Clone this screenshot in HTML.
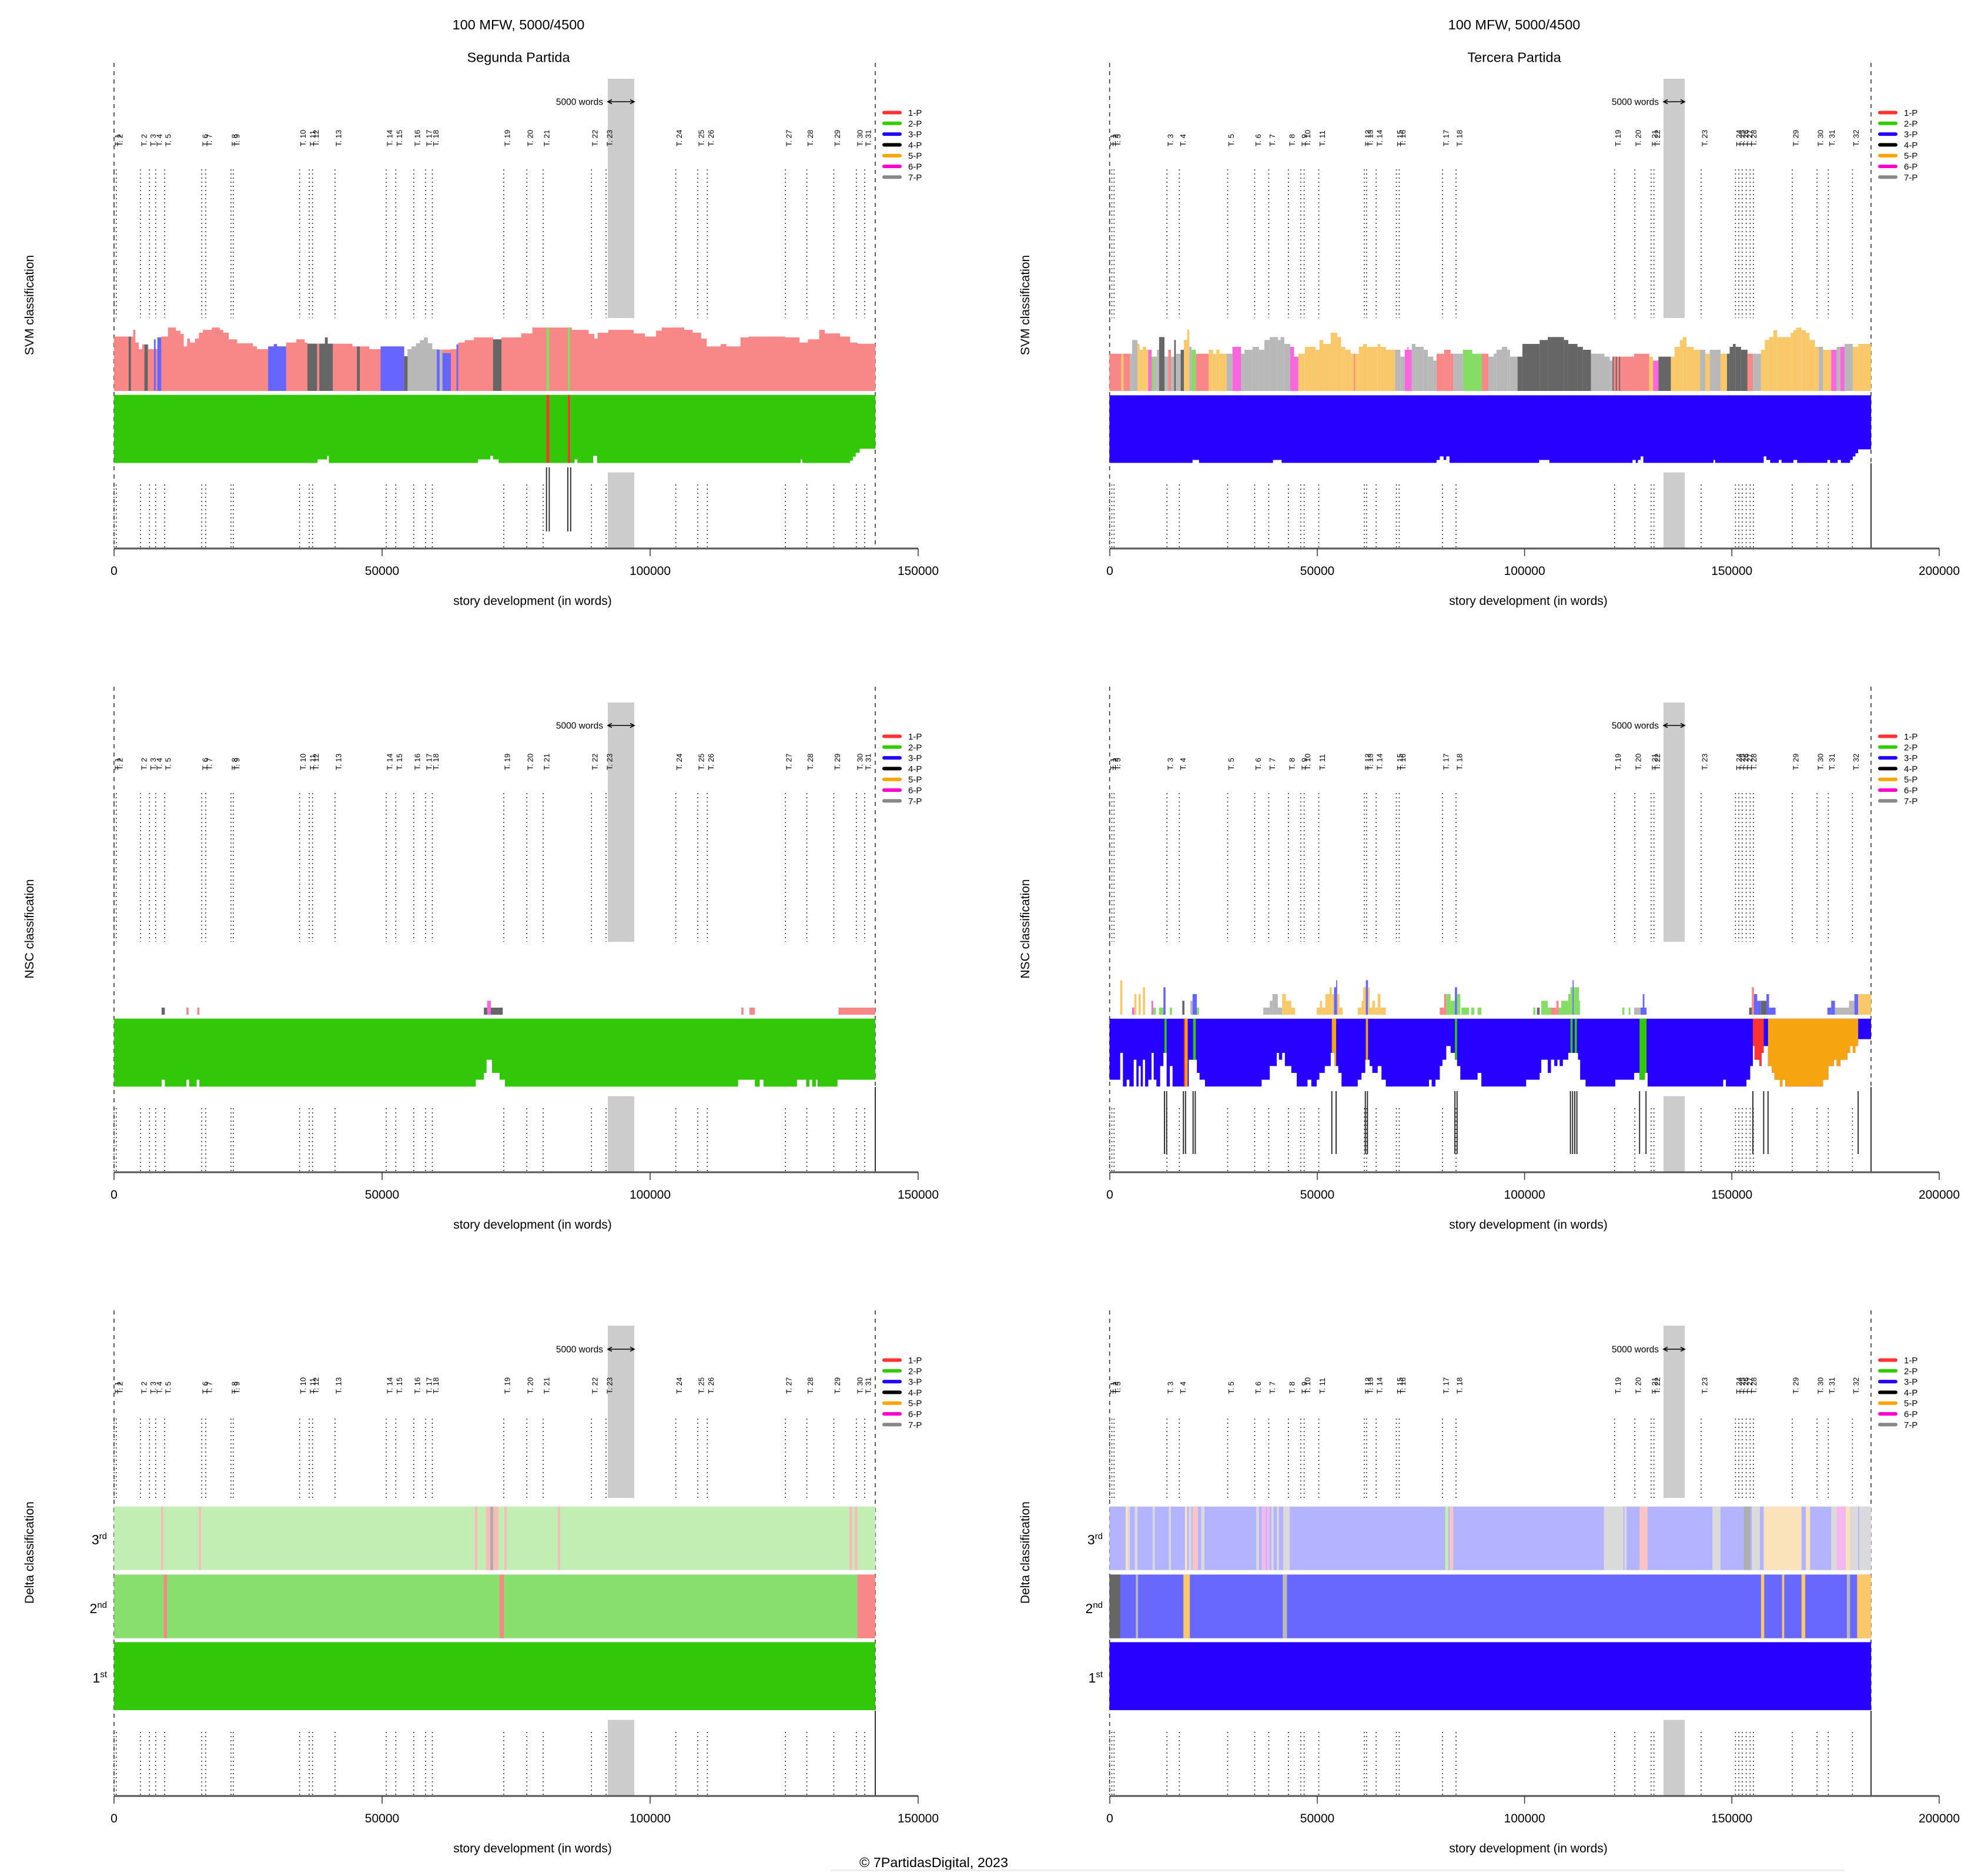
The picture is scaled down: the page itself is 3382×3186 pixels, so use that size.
<!DOCTYPE html>
<html><head><meta charset="utf-8"><title>100 MFW, 5000/4500</title>
<style>
html,body{margin:0;padding:0;background:#fff}
svg{display:block}
text{font-family:"Liberation Sans",Arial,sans-serif;fill:#000}
.ttl{font-size:23.5px;text-anchor:middle}
.yt{font-size:21px;text-anchor:middle}
.tk{font-size:21px;text-anchor:middle}
.ch text{font-size:13px}
.lgt text{font-size:15px}
.wd{font-size:15.5px;text-anchor:end}
.bl{font-size:23px;text-anchor:end}
.dot{fill:none;stroke:#333;stroke-width:1.6;stroke-dasharray:2 5}
.dash{fill:none;stroke:#333;stroke-width:1.6;stroke-dasharray:7 7}
.blk{fill:none;stroke:#333;stroke-width:2}
.ax{fill:none;stroke:#555;stroke-width:3}
.tick{fill:none;stroke:#333;stroke-width:1.5}
.arr{fill:none;stroke:#000;stroke-width:1.6}
.lgl line{stroke-width:6;stroke-linecap:round}
.r{fill:#F88787}.o{fill:#F8C86B}.g{fill:#B8B8B8}.d{fill:#666}.p{fill:#FA66DD}.l{fill:#85DD66}.b{fill:#6666FF}
.G{fill:#33C70A}.B{fill:#2800FF}.R{fill:#F33}.O{fill:#F6A410}
</style></head><body>
<svg xmlns="http://www.w3.org/2000/svg" width="3382" height="3186" viewBox="0 0 3382 3186">
<rect width="3382" height="3186" fill="#fff"/>
<defs>
<path id="dLu" d="M194 288v253M197.8 288v253M239 288v253M254.3 288v253M264.8 288v253M280.1 288v253M343.2 288v253M349.9 288v253M393 288v253M396.8 288v253M509.7 288v253M526 288v253M531.7 288v253M570 288v253M657 288v253M673.3 288v253M703.9 288v253M724 288v253M735.5 288v253M857 288v253M896.2 288v253M924 288v253M1006.2 288v253M1031 288v253M1149.7 288v253M1187 288v253M1203.3 288v253M1336.2 288v253M1372.6 288v253M1418.5 288v253M1456.8 288v253M1471.1 288v253"/>
<path id="dL3" d="M194 291v135M197.8 291v135M239 291v135M254.3 291v135M264.8 291v135M280.1 291v135M343.2 291v135M349.9 291v135M393 291v135M396.8 291v135M509.7 291v135M526 291v135M531.7 291v135M570 291v135M657 291v135M673.3 291v135M703.9 291v135M724 291v135M735.5 291v135M857 291v135M896.2 291v135M924 291v135M1006.2 291v135M1031 291v135M1149.7 291v135M1187 291v135M1203.3 291v135M1336.2 291v135M1372.6 291v135M1418.5 291v135M1456.8 291v135M1471.1 291v135"/>
<path id="dLl" d="M194 824v109M197.8 824v109M239 824v109M254.3 824v109M264.8 824v109M280.1 824v109M343.2 824v109M349.9 824v109M393 824v109M396.8 824v109M509.7 824v109M526 824v109M531.7 824v109M570 824v109M657 824v109M673.3 824v109M703.9 824v109M724 824v109M735.5 824v109M857 824v109M896.2 824v109M924 824v109M1006.2 824v109M1031 824v109M1149.7 824v109M1187 824v109M1203.3 824v109M1336.2 824v109M1372.6 824v109M1418.5 824v109M1456.8 824v109M1471.1 824v109"/>
<path id="dRu" d="M196.7 288v253M200.5 288v253M204.3 288v253M294.2 288v253M315.3 288v253M397.5 288v253M443.5 288v253M467.4 288v253M500.9 288v253M521.9 288v253M527.6 288v253M552.5 288v253M630 288v253M633.8 288v253M650.1 288v253M684.5 288v253M689.3 288v253M763 288v253M786 288v253M1055.7 288v253M1090.2 288v253M1117.9 288v253M1122.7 288v253M1203 288v253M1261.4 288v253M1267.1 288v253M1272.9 288v253M1279.6 288v253M1286.3 288v253M1292 288v253M1358 288v253M1400.1 288v253M1419.3 288v253M1460.4 288v253"/>
<path id="dR3" d="M196.7 291v135M200.5 291v135M204.3 291v135M294.2 291v135M315.3 291v135M397.5 291v135M443.5 291v135M467.4 291v135M500.9 291v135M521.9 291v135M527.6 291v135M552.5 291v135M630 291v135M633.8 291v135M650.1 291v135M684.5 291v135M689.3 291v135M763 291v135M786 291v135M1055.7 291v135M1090.2 291v135M1117.9 291v135M1122.7 291v135M1203 291v135M1261.4 291v135M1267.1 291v135M1272.9 291v135M1279.6 291v135M1286.3 291v135M1292 291v135M1358 291v135M1400.1 291v135M1419.3 291v135M1460.4 291v135"/>
<path id="dRl" d="M196.7 824v109M200.5 824v109M204.3 824v109M294.2 824v109M315.3 824v109M397.5 824v109M443.5 824v109M467.4 824v109M500.9 824v109M521.9 824v109M527.6 824v109M552.5 824v109M630 824v109M633.8 824v109M650.1 824v109M684.5 824v109M689.3 824v109M763 824v109M786 824v109M1055.7 824v109M1090.2 824v109M1117.9 824v109M1122.7 824v109M1203 824v109M1261.4 824v109M1267.1 824v109M1272.9 824v109M1279.6 824v109M1286.3 824v109M1292 824v109M1358 824v109M1400.1 824v109M1419.3 824v109M1460.4 824v109"/>
<clipPath id="c5"><path d="M8,278 H1419 V383 H1395 V418 H1390 V453 H1385 V418 H1380 V453 H1375 V488 H1362 V520 H1355 V488 H1350 V520 H1340 V590 H1330 V625 H1260 V590 H1255 V625 H1250 V590 H1240 V555 H1235 V520 H1228 V418 H1220 V453 H1216 V520 H1212 V488 H1203 V418 H1200 V520 H1195 V590 H1188 V625 H1150 V590 H1145 V625 H1005 V555 H1000 V590 H990 V555 H980 V590 H945 V625 H890 V590 H880 V488 H876 V453 H858 V488 H848 V520 H842 V488 H838 V520 H832 V488 H826 V555 H820 V488 H808 V555 H805 V590 H780 V625 H697 V555 H690 V590 H658 V520 H652 V488 H648 V453 H640 V418 H632 V488 H625 V520 H620 V590 H612 V625 H605 V590 H600 V625 H520 V590 H512 V520 H505 V555 H495 V520 H490 V488 H482 V555 H475 V590 H468 V625 H438 V555 H432 V520 H425 V453 H418 V520 H407 V555 H397 V590 H392 V625 H382 V590 H375 V625 H355 V555 H345 V520 H333 V453 H328 V488 H322 V453 H318 V520 H305 V590 H290 V625 H185 V590 H175 V555 H170 V488 H155 V625 H125 V520 H120 V625 H114 V453 H108 V520 H102 V625 H95 V590 H90 V453 H86 V590 H80 V625 H74 V488 H70 V625 H66 V520 H62 V625 H58 V488 H53 V625 H45 V590 H40 V625 H33 V453 H28 V590 H8 Z"/></clipPath>
</defs>

<!-- ================= ROW 1 LEFT ================= -->
<g transform="translate(0,0)">
<text x="882" y="50" class="ttl">100 MFW, 5000/4500</text>
<text x="882" y="105.5" class="ttl">Segunda Partida</text>
<text transform="translate(57 519)rotate(-90)" class="yt">SVM classification</text>
<path class="dash" d="M194 107V933M1489 107V933"/>
<rect x="1034" y="134" width="45" height="407" fill="#CCC"/>
<rect x="1034" y="803.6" width="45" height="129.4" fill="#CCC"/>
<use href="#dLu" class="dot"/><use href="#dLl" class="dot"/>
<g class="ch">
<text transform="translate(204.5 249)rotate(-90)">T. 1</text><text transform="translate(208.3 249)rotate(-90)">T. 2</text><text transform="translate(249.5 249)rotate(-90)">T. 2</text><text transform="translate(264.8 249)rotate(-90)">T. 3</text><text transform="translate(275.3 249)rotate(-90)">T. 4</text><text transform="translate(290.6 249)rotate(-90)">T. 5</text><text transform="translate(353.7 249)rotate(-90)">T. 6</text><text transform="translate(360.4 249)rotate(-90)">T. 7</text><text transform="translate(403.5 249)rotate(-90)">T. 8</text><text transform="translate(407.3 249)rotate(-90)">T. 9</text><text transform="translate(520.2 249)rotate(-90)">T. 10</text><text transform="translate(536.5 249)rotate(-90)">T. 11</text><text transform="translate(542.2 249)rotate(-90)">T. 12</text><text transform="translate(580.5 249)rotate(-90)">T. 13</text><text transform="translate(667.5 249)rotate(-90)">T. 14</text><text transform="translate(683.8 249)rotate(-90)">T. 15</text><text transform="translate(714.4 249)rotate(-90)">T. 16</text><text transform="translate(734.5 249)rotate(-90)">T. 17</text><text transform="translate(746 249)rotate(-90)">T. 18</text><text transform="translate(867.5 249)rotate(-90)">T. 19</text><text transform="translate(906.7 249)rotate(-90)">T. 20</text><text transform="translate(934.5 249)rotate(-90)">T. 21</text><text transform="translate(1016.7 249)rotate(-90)">T. 22</text><text transform="translate(1041.5 249)rotate(-90)">T. 23</text><text transform="translate(1160.2 249)rotate(-90)">T. 24</text><text transform="translate(1197.5 249)rotate(-90)">T. 25</text><text transform="translate(1213.8 249)rotate(-90)">T. 26</text><text transform="translate(1346.7 249)rotate(-90)">T. 27</text><text transform="translate(1383.1 249)rotate(-90)">T. 28</text><text transform="translate(1429 249)rotate(-90)">T. 29</text><text transform="translate(1467.3 249)rotate(-90)">T. 30</text><text transform="translate(1481.6 249)rotate(-90)">T. 31</text>
</g>
<path class="arr" d="M1034 173H1079M1041 169.5L1034 173L1041 176.5M1072 169.5L1079 173L1072 176.5"/>
<text x="1026" y="178.5" class="wd">5000 words</text>
<g class="lgl"><line x1="1504" x2="1531" y1="191.5" y2="191.5" stroke="#FF3333"/><line x1="1504" x2="1531" y1="209.8" y2="209.8" stroke="#33CC00"/><line x1="1504" x2="1531" y1="228.1" y2="228.1" stroke="#2200FF"/><line x1="1504" x2="1531" y1="246.4" y2="246.4" stroke="#000"/><line x1="1504" x2="1531" y1="264.7" y2="264.7" stroke="#F8A500"/><line x1="1504" x2="1531" y1="283" y2="283" stroke="#FF00CC"/><line x1="1504" x2="1531" y1="301.3" y2="301.3" stroke="#888"/></g>
<g class="lgt"><text x="1545" y="197">1-P</text><text x="1545" y="215.3">2-P</text><text x="1545" y="233.6">3-P</text><text x="1545" y="251.9">4-P</text><text x="1545" y="270.2">5-P</text><text x="1545" y="288.5">6-P</text><text x="1545" y="306.8">7-P</text></g>
<g transform="translate(150,0) scale(0.95663,0.66964)">
<path class="r" d="M46,993 V855 H80 V838 H84 V870 H90 V887 H96 V875 H107 V887 H130 V855 H142 V832 H156 V840 H164 V848 H170 V880 H176 V860 H181 V870 H190 V860 H197 V845 H204 V838 H220 V832 H234 V838 H240 V845 H250 V862 H265 V872 H293 V880 H300 V887 H320 V880 H352 V870 H370 V862 H385 V870 H390 V873 H470 V880 H500 V887 H520 V880 H562 V905 H568 V887 H620 V888 H645 V887 H655 V875 H658 V870 H670 V864 H686 V857 H720 V862 H735 V857 H770 V847 H790 V832 H860 V838 H890 V848 H900 V860 H906 V845 H925 V838 H970 V847 H990 V855 H1010 V840 H1020 V832 H1060 V838 H1075 V845 H1090 V860 H1100 V880 H1125 V874 H1135 V880 H1160 V857 H1175 V855 H1240 V857 H1265 V870 H1280 V862 H1300 V838 H1310 V847 H1337 V855 H1355 V870 H1368 V873 H1400 V993 Z"/>
<rect class="d" x="72" y="855" width="4" height="138"/><rect class="d" x="100" y="875" width="6" height="118"/><rect class="d" x="390" y="873" width="17" height="120"/><rect class="d" x="411" y="873" width="24" height="120"/><rect class="d" x="421" y="857" width="5" height="16"/><rect class="d" x="478" y="880" width="5" height="113"/><rect class="d" x="562" y="905" width="6" height="88"/><rect class="d" x="720" y="862" width="15" height="131"/>
<rect class="b" x="117" y="862" width="3" height="131"/><rect class="b" x="123" y="857" width="7" height="136"/><rect class="b" x="320" y="880" width="32" height="113"/><rect class="b" x="330" y="874" width="6" height="6"/><rect class="b" x="520" y="880" width="42" height="113"/><rect class="b" x="620" y="888" width="5" height="105"/><rect class="b" x="630" y="897" width="15" height="96"/><rect class="b" x="655" y="875" width="3" height="118"/>
<path class="g" d="M568,993 V887 H575 V880 H583 V872 H590 V864 H597 V857 H604 V872 H612 V887 H620 V993 Z"/><rect class="g" x="625" y="888" width="5" height="105"/>
<rect class="l" x="815" y="832" width="5" height="161"/><rect class="l" x="853" y="832" width="4" height="161"/>
<path class="G" d="M46,1003 H1400 V1140 H1372 V1150 H1365 V1160 H1360 V1170 H1355 V1176 H1270 V1167 H1267 V1176 H905 V1158 H898 V1176 H870 V1167 H865 V1176 H730 V1167 H720 V1158 H715 V1167 H693 V1176 H428 V1158 H425 V1167 H408 V1176 H46 Z"/>
<rect class="R" x="815" y="1003" width="5" height="173"/><rect class="R" x="853" y="1003" width="4" height="173"/>
</g>
<path class="blk" d="M929.7 795V904M934.4 795V904M966 795V904M970.8 795V904"/>
<path class="ax" d="M194 933H1562"/>
<path class="tick" d="M194 933v13M650 933v13M1106 933v13M1562 933v13"/>
<text x="194" y="978" class="tk">0</text><text x="650" y="978" class="tk">50000</text><text x="1106" y="978" class="tk">100000</text><text x="1562" y="978" class="tk">150000</text>
<text x="906" y="1029" class="tk">story development (in words)</text>
</g>

<!-- ================= ROW 1 RIGHT ================= -->
<g transform="translate(1691,0)">
<text x="885" y="50" class="ttl">100 MFW, 5000/4500</text>
<text x="885" y="105.5" class="ttl">Tercera Partida</text>
<text transform="translate(60 519)rotate(-90)" class="yt">SVM classification</text>
<path class="dash" d="M196.7 107V933M1492 107V788"/>
<path class="blk" d="M1492 788V933"/>
<rect x="1139" y="134" width="36" height="407" fill="#CCC"/>
<rect x="1139" y="803.6" width="36" height="129.4" fill="#CCC"/>
<use href="#dRu" class="dot"/><use href="#dRl" class="dot"/>
<g class="ch">
<text transform="translate(207.2 249)rotate(-90)">T. 1</text><text transform="translate(211 249)rotate(-90)">T. 2</text><text transform="translate(214.8 249)rotate(-90)">T. 3</text><text transform="translate(304.7 249)rotate(-90)">T. 3</text><text transform="translate(325.8 249)rotate(-90)">T. 4</text><text transform="translate(408 249)rotate(-90)">T. 5</text><text transform="translate(454 249)rotate(-90)">T. 6</text><text transform="translate(477.9 249)rotate(-90)">T. 7</text><text transform="translate(511.4 249)rotate(-90)">T. 8</text><text transform="translate(532.4 249)rotate(-90)">T. 9</text><text transform="translate(538.1 249)rotate(-90)">T. 10</text><text transform="translate(563 249)rotate(-90)">T. 11</text><text transform="translate(640.5 249)rotate(-90)">T. 12</text><text transform="translate(644.3 249)rotate(-90)">T. 13</text><text transform="translate(660.6 249)rotate(-90)">T. 14</text><text transform="translate(695 249)rotate(-90)">T. 15</text><text transform="translate(699.8 249)rotate(-90)">T. 16</text><text transform="translate(773.5 249)rotate(-90)">T. 17</text><text transform="translate(796.5 249)rotate(-90)">T. 18</text><text transform="translate(1066.2 249)rotate(-90)">T. 19</text><text transform="translate(1100.7 249)rotate(-90)">T. 20</text><text transform="translate(1128.4 249)rotate(-90)">T. 21</text><text transform="translate(1133.2 249)rotate(-90)">T. 22</text><text transform="translate(1213.5 249)rotate(-90)">T. 23</text><text transform="translate(1271.9 249)rotate(-90)">T. 24</text><text transform="translate(1277.6 249)rotate(-90)">T. 25</text><text transform="translate(1283.4 249)rotate(-90)">T. 26</text><text transform="translate(1290.1 249)rotate(-90)">T. 27</text><text transform="translate(1296.8 249)rotate(-90)">T. 28</text><text transform="translate(1368.5 249)rotate(-90)">T. 29</text><text transform="translate(1410.6 249)rotate(-90)">T. 30</text><text transform="translate(1429.8 249)rotate(-90)">T. 31</text><text transform="translate(1470.9 249)rotate(-90)">T. 32</text>
</g>
<path class="arr" d="M1139 173H1175M1146 169.5L1139 173L1146 176.5M1168 169.5L1175 173L1168 176.5"/>
<text x="1131" y="178.5" class="wd">5000 words</text>
<g class="lgl"><line x1="1507" x2="1534" y1="191.5" y2="191.5" stroke="#FF3333"/><line x1="1507" x2="1534" y1="209.8" y2="209.8" stroke="#33CC00"/><line x1="1507" x2="1534" y1="228.1" y2="228.1" stroke="#2200FF"/><line x1="1507" x2="1534" y1="246.4" y2="246.4" stroke="#000"/><line x1="1507" x2="1534" y1="264.7" y2="264.7" stroke="#F8A500"/><line x1="1507" x2="1534" y1="283" y2="283" stroke="#FF00CC"/><line x1="1507" x2="1534" y1="301.3" y2="301.3" stroke="#888"/></g>
<g class="lgt"><text x="1548" y="197">1-P</text><text x="1548" y="215.3">2-P</text><text x="1548" y="233.6">3-P</text><text x="1548" y="251.9">4-P</text><text x="1548" y="270.2">5-P</text><text x="1548" y="288.5">6-P</text><text x="1548" y="306.8">7-P</text></g>
<g transform="translate(189,540) scale(0.91837,0.33333)">
<rect class="r" x="8" y="185" width="22" height="190"/><rect class="o" x="30" y="185" width="4" height="190"/><rect class="r" x="34" y="185" width="12" height="190"/><rect class="g" x="46" y="185" width="4" height="190"/><rect class="g" x="50" y="115" width="10" height="260"/><rect class="o" x="60" y="135" width="4" height="240"/><rect class="o" x="64" y="165" width="6" height="210"/><rect class="o" x="70" y="150" width="6" height="225"/><rect class="o" x="76" y="165" width="4" height="210"/><rect class="p" x="80" y="165" width="6" height="210"/><rect class="l" x="86" y="200" width="4" height="175"/><rect class="g" x="90" y="200" width="6" height="175"/><rect class="g" x="96" y="165" width="4" height="210"/><rect class="d" x="100" y="100" width="10" height="275"/><rect class="g" x="110" y="200" width="7" height="175"/><rect class="r" x="117" y="165" width="5" height="210"/><rect class="g" x="122" y="200" width="6" height="175"/><rect class="d" x="128" y="115" width="3" height="260"/><rect class="g" x="131" y="185" width="9" height="190"/><rect class="d" x="140" y="165" width="6" height="210"/><rect class="o" x="146" y="115" width="6" height="260"/><rect class="o" x="152" y="63" width="4" height="312"/><rect class="g" x="156" y="150" width="4" height="225"/><rect class="l" x="160" y="165" width="8" height="210"/><rect class="r" x="168" y="185" width="24" height="190"/><rect class="o" x="192" y="165" width="8" height="210"/><rect class="o" x="200" y="185" width="6" height="190"/><rect class="o" x="206" y="165" width="6" height="210"/><rect class="o" x="212" y="185" width="13" height="190"/><rect class="g" x="225" y="185" width="11" height="190"/><rect class="p" x="236" y="150" width="16" height="225"/><rect class="g" x="252" y="185" width="6" height="190"/><rect class="g" x="258" y="165" width="15" height="210"/><rect class="g" x="273" y="150" width="12" height="225"/><rect class="g" x="285" y="165" width="10" height="210"/><rect class="g" x="295" y="115" width="10" height="260"/><rect class="g" x="305" y="100" width="15" height="275"/><rect class="g" x="320" y="115" width="5" height="260"/><rect class="g" x="325" y="100" width="7" height="275"/><rect class="g" x="332" y="135" width="11" height="240"/><rect class="p" x="343" y="150" width="7" height="225"/><rect class="p" x="350" y="200" width="8" height="175"/><rect class="o" x="358" y="185" width="12" height="190"/><rect class="o" x="370" y="150" width="20" height="225"/><rect class="o" x="390" y="165" width="7" height="210"/><rect class="o" x="397" y="115" width="7" height="260"/><rect class="o" x="404" y="135" width="14" height="240"/><rect class="o" x="418" y="78" width="12" height="297"/><rect class="o" x="430" y="100" width="7" height="275"/><rect class="o" x="437" y="150" width="8" height="225"/><rect class="o" x="445" y="165" width="10" height="210"/><rect class="o" x="455" y="185" width="15" height="190"/><rect class="r" x="461" y="185" width="2" height="190"/><rect class="o" x="470" y="150" width="8" height="225"/><rect class="o" x="478" y="135" width="7" height="240"/><rect class="o" x="485" y="150" width="20" height="225"/><rect class="o" x="505" y="135" width="5" height="240"/><rect class="o" x="510" y="150" width="10" height="225"/><rect class="o" x="520" y="165" width="17" height="210"/><rect class="g" x="537" y="165" width="10" height="210"/><rect class="g" x="547" y="200" width="8" height="175"/><rect class="p" x="555" y="165" width="13" height="210"/><rect class="p" x="560" y="150" width="2" height="225"/><rect class="g" x="568" y="135" width="7" height="240"/><rect class="g" x="575" y="150" width="15" height="225"/><rect class="g" x="590" y="165" width="8" height="210"/><rect class="g" x="598" y="200" width="10" height="175"/><rect class="g" x="608" y="220" width="6" height="155"/><rect class="r" x="614" y="185" width="14" height="190"/><rect class="r" x="628" y="165" width="12" height="210"/><rect class="r" x="640" y="185" width="5" height="190"/><rect class="g" x="645" y="185" width="18" height="190"/><rect class="l" x="663" y="165" width="17" height="210"/><rect class="l" x="680" y="185" width="18" height="190"/><rect class="r" x="698" y="185" width="12" height="190"/><rect class="g" x="710" y="200" width="10" height="175"/><rect class="g" x="720" y="185" width="5" height="190"/><rect class="g" x="725" y="165" width="10" height="210"/><rect class="g" x="735" y="150" width="10" height="225"/><rect class="g" x="745" y="165" width="5" height="210"/><rect class="g" x="750" y="200" width="14" height="175"/><rect class="d" x="764" y="200" width="9" height="175"/><rect class="d" x="773" y="135" width="32" height="240"/><rect class="d" x="805" y="115" width="15" height="260"/><rect class="d" x="820" y="100" width="30" height="275"/><rect class="d" x="850" y="115" width="8" height="260"/><rect class="d" x="858" y="135" width="17" height="240"/><rect class="d" x="875" y="150" width="10" height="225"/><rect class="d" x="885" y="165" width="15" height="210"/><rect class="g" x="900" y="185" width="25" height="190"/><rect class="g" x="925" y="200" width="10" height="175"/><rect class="g" x="935" y="220" width="5" height="155"/><rect class="r" x="940" y="200" width="40" height="175"/><rect class="d" x="940" y="200" width="2" height="175"/><rect class="d" x="946" y="200" width="2" height="175"/><rect class="d" x="952" y="200" width="2" height="175"/><rect class="r" x="980" y="185" width="28" height="190"/><rect class="o" x="1008" y="200" width="7" height="175"/><rect class="p" x="1015" y="220" width="10" height="155"/><rect class="d" x="1025" y="200" width="23" height="175"/><rect class="o" x="1048" y="200" width="7" height="175"/><rect class="o" x="1055" y="150" width="10" height="225"/><rect class="o" x="1065" y="115" width="5" height="260"/><rect class="o" x="1070" y="100" width="7" height="275"/><rect class="o" x="1077" y="150" width="13" height="225"/><rect class="o" x="1090" y="165" width="12" height="210"/><rect class="g" x="1102" y="165" width="10" height="210"/><rect class="o" x="1112" y="185" width="8" height="190"/><rect class="g" x="1120" y="165" width="20" height="210"/><rect class="o" x="1140" y="185" width="12" height="190"/><rect class="d" x="1152" y="185" width="5" height="190"/><rect class="d" x="1157" y="150" width="6" height="225"/><rect class="d" x="1163" y="135" width="5" height="240"/><rect class="d" x="1168" y="150" width="10" height="225"/><rect class="d" x="1178" y="165" width="12" height="210"/><rect class="r" x="1190" y="185" width="10" height="190"/><rect class="g" x="1200" y="185" width="15" height="190"/><rect class="o" x="1215" y="165" width="7" height="210"/><rect class="o" x="1222" y="115" width="8" height="260"/><rect class="o" x="1230" y="100" width="8" height="275"/><rect class="o" x="1238" y="65" width="7" height="310"/><rect class="o" x="1245" y="100" width="25" height="275"/><rect class="o" x="1270" y="78" width="5" height="297"/><rect class="o" x="1275" y="65" width="5" height="310"/><rect class="o" x="1280" y="52" width="10" height="323"/><rect class="o" x="1290" y="65" width="8" height="310"/><rect class="o" x="1298" y="78" width="7" height="297"/><rect class="o" x="1305" y="115" width="10" height="260"/><rect class="o" x="1315" y="150" width="7" height="225"/><rect class="g" x="1322" y="150" width="8" height="225"/><rect class="o" x="1330" y="165" width="15" height="210"/><rect class="p" x="1345" y="165" width="10" height="210"/><rect class="g" x="1355" y="150" width="7" height="225"/><rect class="p" x="1362" y="150" width="8" height="225"/><rect class="g" x="1370" y="135" width="15" height="240"/><rect class="o" x="1385" y="150" width="10" height="225"/><rect class="o" x="1395" y="135" width="24" height="240"/>
<path class="B" d="M8,397 H1419 V673 H1395 V693 H1390 V709 H1385 V727 H1380 V742 H1363 V727 H1357 V742 H1343 V727 H1338 V742 H1282 V727 H1275 V742 H1253 V727 H1248 V742 H1232 V727 H1225 V709 H1220 V742 H1130 V727 H1127 V742 H997 V709 H992 V727 H987 V742 H983 V727 H977 V742 H823 V727 H804 V742 H638 V709 H632 V727 H627 V709 H620 V727 H614 V742 H327 V727 H311 V742 H174 V727 H162 V742 H8 Z"/>
</g>
<path class="ax" d="M197 933H1608"/>
<path class="tick" d="M197 933v13M550 933v13M902.6 933v13M1255.2 933v13M1608 933v13"/>
<text x="197" y="978" class="tk">0</text><text x="550" y="978" class="tk">50000</text><text x="902.6" y="978" class="tk">100000</text><text x="1255.2" y="978" class="tk">150000</text><text x="1608" y="978" class="tk">200000</text>
<text x="909" y="1029" class="tk">story development (in words)</text>
</g>

<!-- ================= ROW 2 LEFT ================= -->
<g transform="translate(0,1061)">
<text transform="translate(57 519)rotate(-90)" class="yt">NSC classification</text>
<path class="dash" d="M194 107V933M1489 107V788"/>
<path class="blk" d="M1489 788V933"/>
<rect x="1034" y="134" width="45" height="407" fill="#CCC"/>
<rect x="1034" y="803.6" width="45" height="129.4" fill="#CCC"/>
<use href="#dLu" class="dot"/><use href="#dLl" class="dot"/>
<g class="ch">
<text transform="translate(204.5 249)rotate(-90)">T. 1</text><text transform="translate(208.3 249)rotate(-90)">T. 2</text><text transform="translate(249.5 249)rotate(-90)">T. 2</text><text transform="translate(264.8 249)rotate(-90)">T. 3</text><text transform="translate(275.3 249)rotate(-90)">T. 4</text><text transform="translate(290.6 249)rotate(-90)">T. 5</text><text transform="translate(353.7 249)rotate(-90)">T. 6</text><text transform="translate(360.4 249)rotate(-90)">T. 7</text><text transform="translate(403.5 249)rotate(-90)">T. 8</text><text transform="translate(407.3 249)rotate(-90)">T. 9</text><text transform="translate(520.2 249)rotate(-90)">T. 10</text><text transform="translate(536.5 249)rotate(-90)">T. 11</text><text transform="translate(542.2 249)rotate(-90)">T. 12</text><text transform="translate(580.5 249)rotate(-90)">T. 13</text><text transform="translate(667.5 249)rotate(-90)">T. 14</text><text transform="translate(683.8 249)rotate(-90)">T. 15</text><text transform="translate(714.4 249)rotate(-90)">T. 16</text><text transform="translate(734.5 249)rotate(-90)">T. 17</text><text transform="translate(746 249)rotate(-90)">T. 18</text><text transform="translate(867.5 249)rotate(-90)">T. 19</text><text transform="translate(906.7 249)rotate(-90)">T. 20</text><text transform="translate(934.5 249)rotate(-90)">T. 21</text><text transform="translate(1016.7 249)rotate(-90)">T. 22</text><text transform="translate(1041.5 249)rotate(-90)">T. 23</text><text transform="translate(1160.2 249)rotate(-90)">T. 24</text><text transform="translate(1197.5 249)rotate(-90)">T. 25</text><text transform="translate(1213.8 249)rotate(-90)">T. 26</text><text transform="translate(1346.7 249)rotate(-90)">T. 27</text><text transform="translate(1383.1 249)rotate(-90)">T. 28</text><text transform="translate(1429 249)rotate(-90)">T. 29</text><text transform="translate(1467.3 249)rotate(-90)">T. 30</text><text transform="translate(1481.6 249)rotate(-90)">T. 31</text>
</g>
<path class="arr" d="M1034 173H1079M1041 169.5L1034 173L1041 176.5M1072 169.5L1079 173L1072 176.5"/>
<text x="1026" y="178.5" class="wd">5000 words</text>
<g class="lgl"><line x1="1504" x2="1531" y1="191.5" y2="191.5" stroke="#FF3333"/><line x1="1504" x2="1531" y1="209.8" y2="209.8" stroke="#33CC00"/><line x1="1504" x2="1531" y1="228.1" y2="228.1" stroke="#2200FF"/><line x1="1504" x2="1531" y1="246.4" y2="246.4" stroke="#000"/><line x1="1504" x2="1531" y1="264.7" y2="264.7" stroke="#F8A500"/><line x1="1504" x2="1531" y1="283" y2="283" stroke="#FF00CC"/><line x1="1504" x2="1531" y1="301.3" y2="301.3" stroke="#888"/></g>
<g class="lgt"><text x="1545" y="197">1-P</text><text x="1545" y="215.3">2-P</text><text x="1545" y="233.6">3-P</text><text x="1545" y="251.9">4-P</text><text x="1545" y="270.2">5-P</text><text x="1545" y="288.5">6-P</text><text x="1545" y="306.8">7-P</text></g>
<g transform="translate(150,579) scale(0.91837,0.33333)">
<rect class="d" x="136" y="222" width="6" height="36"/><rect class="r" x="182" y="222" width="4" height="36"/><rect class="r" x="202" y="222" width="4" height="36"/><rect class="d" x="733" y="222" width="35" height="36"/><rect class="p" x="739" y="187" width="7" height="71"/><rect class="r" x="1210" y="222" width="4" height="36"/><rect class="r" x="1225" y="222" width="10" height="36"/><rect class="r" x="1390" y="222" width="68" height="36"/>
<path class="G" d="M48,278 H1458 V590 H1388 V625 H1351 V590 H1348 V625 H1341 V590 H1336 V625 H1330 V590 H1313 V625 H1251 V590 H1244 V625 H1235 V590 H1204 V625 H772 V590 H762 V555 H748 V488 H738 V555 H733 V590 H718 V625 H206 V590 H201 V625 H187 V590 H182 V625 H142 V590 H136 V625 H48 Z"/>
</g>
<path class="ax" d="M194 933H1562"/>
<path class="tick" d="M194 933v13M650 933v13M1106 933v13M1562 933v13"/>
<text x="194" y="978" class="tk">0</text><text x="650" y="978" class="tk">50000</text><text x="1106" y="978" class="tk">100000</text><text x="1562" y="978" class="tk">150000</text>
<text x="906" y="1029" class="tk">story development (in words)</text>
</g>

<!-- ================= ROW 2 RIGHT ================= -->
<g transform="translate(1691,1061)">
<text transform="translate(60 519)rotate(-90)" class="yt">NSC classification</text>
<path class="dash" d="M196.7 107V933M1492 107V788"/>
<path class="blk" d="M1492 788V933"/>
<rect x="1139" y="134" width="36" height="407" fill="#CCC"/>
<rect x="1139" y="803.6" width="36" height="129.4" fill="#CCC"/>
<use href="#dRu" class="dot"/><use href="#dRl" class="dot"/>
<g class="ch">
<text transform="translate(207.2 249)rotate(-90)">T. 1</text><text transform="translate(211 249)rotate(-90)">T. 2</text><text transform="translate(214.8 249)rotate(-90)">T. 3</text><text transform="translate(304.7 249)rotate(-90)">T. 3</text><text transform="translate(325.8 249)rotate(-90)">T. 4</text><text transform="translate(408 249)rotate(-90)">T. 5</text><text transform="translate(454 249)rotate(-90)">T. 6</text><text transform="translate(477.9 249)rotate(-90)">T. 7</text><text transform="translate(511.4 249)rotate(-90)">T. 8</text><text transform="translate(532.4 249)rotate(-90)">T. 9</text><text transform="translate(538.1 249)rotate(-90)">T. 10</text><text transform="translate(563 249)rotate(-90)">T. 11</text><text transform="translate(640.5 249)rotate(-90)">T. 12</text><text transform="translate(644.3 249)rotate(-90)">T. 13</text><text transform="translate(660.6 249)rotate(-90)">T. 14</text><text transform="translate(695 249)rotate(-90)">T. 15</text><text transform="translate(699.8 249)rotate(-90)">T. 16</text><text transform="translate(773.5 249)rotate(-90)">T. 17</text><text transform="translate(796.5 249)rotate(-90)">T. 18</text><text transform="translate(1066.2 249)rotate(-90)">T. 19</text><text transform="translate(1100.7 249)rotate(-90)">T. 20</text><text transform="translate(1128.4 249)rotate(-90)">T. 21</text><text transform="translate(1133.2 249)rotate(-90)">T. 22</text><text transform="translate(1213.5 249)rotate(-90)">T. 23</text><text transform="translate(1271.9 249)rotate(-90)">T. 24</text><text transform="translate(1277.6 249)rotate(-90)">T. 25</text><text transform="translate(1283.4 249)rotate(-90)">T. 26</text><text transform="translate(1290.1 249)rotate(-90)">T. 27</text><text transform="translate(1296.8 249)rotate(-90)">T. 28</text><text transform="translate(1368.5 249)rotate(-90)">T. 29</text><text transform="translate(1410.6 249)rotate(-90)">T. 30</text><text transform="translate(1429.8 249)rotate(-90)">T. 31</text><text transform="translate(1470.9 249)rotate(-90)">T. 32</text>
</g>
<path class="arr" d="M1139 173H1175M1146 169.5L1139 173L1146 176.5M1168 169.5L1175 173L1168 176.5"/>
<text x="1131" y="178.5" class="wd">5000 words</text>
<g class="lgl"><line x1="1507" x2="1534" y1="191.5" y2="191.5" stroke="#FF3333"/><line x1="1507" x2="1534" y1="209.8" y2="209.8" stroke="#33CC00"/><line x1="1507" x2="1534" y1="228.1" y2="228.1" stroke="#2200FF"/><line x1="1507" x2="1534" y1="246.4" y2="246.4" stroke="#000"/><line x1="1507" x2="1534" y1="264.7" y2="264.7" stroke="#F8A500"/><line x1="1507" x2="1534" y1="283" y2="283" stroke="#FF00CC"/><line x1="1507" x2="1534" y1="301.3" y2="301.3" stroke="#888"/></g>
<g class="lgt"><text x="1548" y="197">1-P</text><text x="1548" y="215.3">2-P</text><text x="1548" y="233.6">3-P</text><text x="1548" y="251.9">4-P</text><text x="1548" y="270.2">5-P</text><text x="1548" y="288.5">6-P</text><text x="1548" y="306.8">7-P</text></g>
<g transform="translate(189,579) scale(0.91837,0.33333)">
<rect class="o" x="28" y="82" width="4" height="176"/><rect class="p" x="50" y="222" width="4" height="36"/><rect class="o" x="54" y="153" width="4" height="105"/><rect class="o" x="62" y="153" width="4" height="105"/><rect class="o" x="70" y="118" width="4" height="140"/><rect class="p" x="86" y="187" width="3" height="71"/><rect class="l" x="89" y="222" width="5" height="36"/><rect class="l" x="100" y="222" width="8" height="36"/><rect class="b" x="108" y="118" width="4" height="140"/><rect class="l" x="120" y="222" width="4" height="36"/><rect class="d" x="143" y="187" width="4" height="71"/><rect class="g" x="158" y="187" width="4" height="71"/><rect class="b" x="162" y="153" width="8" height="105"/><rect class="l" x="170" y="222" width="4" height="36"/>
<rect class="g" x="293" y="222" width="12" height="36"/><rect class="g" x="305" y="187" width="5" height="71"/><rect class="g" x="310" y="153" width="10" height="105"/><rect class="g" x="320" y="222" width="8" height="36"/><rect class="o" x="328" y="153" width="7" height="105"/><rect class="o" x="335" y="187" width="10" height="71"/><rect class="o" x="345" y="222" width="7" height="36"/>
<rect class="o" x="392" y="222" width="6" height="36"/><rect class="o" x="398" y="187" width="4" height="71"/><rect class="o" x="402" y="222" width="6" height="36"/><rect class="o" x="408" y="153" width="8" height="105"/><rect class="o" x="416" y="118" width="4" height="140"/><rect class="o" x="420" y="153" width="4" height="105"/><rect class="b" x="424" y="118" width="4" height="140"/><rect class="b" x="428" y="82" width="2" height="176"/><rect class="o" x="430" y="153" width="4" height="105"/><rect class="o" x="434" y="222" width="6" height="36"/>
<rect class="o" x="468" y="222" width="7" height="36"/><rect class="o" x="475" y="187" width="3" height="71"/><rect class="o" x="478" y="118" width="5" height="140"/><rect class="b" x="483" y="82" width="4" height="176"/><rect class="o" x="487" y="118" width="3" height="140"/><rect class="o" x="490" y="222" width="5" height="36"/><rect class="o" x="495" y="187" width="5" height="71"/><rect class="o" x="500" y="222" width="5" height="36"/><rect class="o" x="505" y="153" width="5" height="105"/><rect class="o" x="510" y="222" width="10" height="36"/>
<rect class="r" x="620" y="222" width="8" height="36"/><rect class="r" x="628" y="153" width="4" height="105"/><rect class="l" x="632" y="153" width="8" height="105"/><rect class="l" x="640" y="187" width="8" height="71"/><rect class="b" x="648" y="118" width="4" height="140"/><rect class="l" x="652" y="153" width="6" height="105"/><rect class="l" x="660" y="222" width="14" height="36"/><rect class="l" x="678" y="222" width="6" height="36"/><rect class="l" x="690" y="222" width="7" height="36"/>
<rect class="l" x="793" y="222" width="4" height="36"/><rect class="d" x="800" y="222" width="5" height="36"/><rect class="l" x="808" y="187" width="12" height="71"/><rect class="l" x="820" y="222" width="6" height="36"/><rect class="r" x="826" y="222" width="10" height="36"/><rect class="r" x="836" y="187" width="4" height="71"/><rect class="l" x="840" y="222" width="5" height="36"/><rect class="l" x="845" y="187" width="13" height="71"/><rect class="l" x="858" y="153" width="4" height="105"/><rect class="l" x="862" y="118" width="4" height="140"/><rect class="b" x="866" y="82" width="2" height="176"/><rect class="l" x="868" y="118" width="10" height="140"/><rect class="l" x="878" y="187" width="2" height="71"/>
<rect class="l" x="958" y="222" width="4" height="36"/><rect class="l" x="970" y="222" width="3" height="36"/><rect class="g" x="980" y="222" width="12" height="36"/><rect class="b" x="992" y="222" width="11" height="36"/><rect class="b" x="996" y="153" width="3" height="105"/>
<rect class="d" x="1193" y="222" width="5" height="36"/><rect class="r" x="1198" y="118" width="4" height="140"/><rect class="b" x="1202" y="153" width="6" height="105"/><rect class="b" x="1208" y="187" width="7" height="71"/><rect class="d" x="1215" y="187" width="10" height="71"/><rect class="b" x="1225" y="153" width="5" height="105"/><rect class="b" x="1230" y="222" width="12" height="36"/>
<rect class="b" x="1338" y="222" width="7" height="36"/><rect class="b" x="1345" y="187" width="7" height="71"/><rect class="g" x="1352" y="222" width="26" height="36"/><rect class="g" x="1378" y="187" width="10" height="71"/><rect class="b" x="1388" y="153" width="7" height="105"/><rect class="o" x="1395" y="153" width="24" height="105"/>
<g clip-path="url(#c5)">
<rect class="B" x="8" y="278" width="1411" height="347"/>
<rect class="G" x="110" y="278" width="4" height="347"/><rect class="O" x="147" y="278" width="6" height="347"/><rect class="R" x="146" y="278" width="2" height="347"/><rect class="G" x="163" y="278" width="5" height="347"/><rect class="O" x="420" y="278" width="8" height="347"/><rect class="O" x="483" y="278" width="4" height="347"/><rect class="G" x="648" y="278" width="4" height="347"/><rect class="G" x="862" y="278" width="4" height="347"/><rect class="G" x="870" y="278" width="4" height="347"/><rect class="G" x="990" y="278" width="13" height="347"/><rect class="R" x="1200" y="278" width="20" height="347"/><rect class="O" x="1228" y="278" width="167" height="347"/>
</g>
</g>
<path class="blk" d="M290 795V902M293.7 795V902M322.2 795V902M325.8 795V902M338.7 795V902M342.4 795V902M574.7 795V902M582 795V902M631.7 795V902M635.3 795V902M784.1 795V902M787.8 795V902M980.6 795V902M984.3 795V902M988 795V902M991.6 795V902M1098.2 795V902M1109.2 795V902M1291 795V902M1309.4 795V902M1316.8 795V902M1470.1 795V902"/>
<path class="ax" d="M197 933H1608"/>
<path class="tick" d="M197 933v13M550 933v13M902.6 933v13M1255.2 933v13M1608 933v13"/>
<text x="197" y="978" class="tk">0</text><text x="550" y="978" class="tk">50000</text><text x="902.6" y="978" class="tk">100000</text><text x="1255.2" y="978" class="tk">150000</text><text x="1608" y="978" class="tk">200000</text>
<text x="909" y="1029" class="tk">story development (in words)</text>
</g>

<!-- ================= ROW 3 LEFT ================= -->
<g transform="translate(0,2122)">
<text transform="translate(57 519)rotate(-90)" class="yt">Delta classification</text>
<path class="dash" d="M194 107V933M1489 107V788"/>
<path class="blk" d="M1489 788V933"/>
<rect x="1034" y="133" width="45" height="293" fill="#CCC"/>
<rect x="1034" y="803.6" width="45" height="129.4" fill="#CCC"/>
<use href="#dL3" class="dot"/><use href="#dLl" class="dot"/>
<g class="ch">
<text transform="translate(204.5 249)rotate(-90)">T. 1</text><text transform="translate(208.3 249)rotate(-90)">T. 2</text><text transform="translate(249.5 249)rotate(-90)">T. 2</text><text transform="translate(264.8 249)rotate(-90)">T. 3</text><text transform="translate(275.3 249)rotate(-90)">T. 4</text><text transform="translate(290.6 249)rotate(-90)">T. 5</text><text transform="translate(353.7 249)rotate(-90)">T. 6</text><text transform="translate(360.4 249)rotate(-90)">T. 7</text><text transform="translate(403.5 249)rotate(-90)">T. 8</text><text transform="translate(407.3 249)rotate(-90)">T. 9</text><text transform="translate(520.2 249)rotate(-90)">T. 10</text><text transform="translate(536.5 249)rotate(-90)">T. 11</text><text transform="translate(542.2 249)rotate(-90)">T. 12</text><text transform="translate(580.5 249)rotate(-90)">T. 13</text><text transform="translate(667.5 249)rotate(-90)">T. 14</text><text transform="translate(683.8 249)rotate(-90)">T. 15</text><text transform="translate(714.4 249)rotate(-90)">T. 16</text><text transform="translate(734.5 249)rotate(-90)">T. 17</text><text transform="translate(746 249)rotate(-90)">T. 18</text><text transform="translate(867.5 249)rotate(-90)">T. 19</text><text transform="translate(906.7 249)rotate(-90)">T. 20</text><text transform="translate(934.5 249)rotate(-90)">T. 21</text><text transform="translate(1016.7 249)rotate(-90)">T. 22</text><text transform="translate(1041.5 249)rotate(-90)">T. 23</text><text transform="translate(1160.2 249)rotate(-90)">T. 24</text><text transform="translate(1197.5 249)rotate(-90)">T. 25</text><text transform="translate(1213.8 249)rotate(-90)">T. 26</text><text transform="translate(1346.7 249)rotate(-90)">T. 27</text><text transform="translate(1383.1 249)rotate(-90)">T. 28</text><text transform="translate(1429 249)rotate(-90)">T. 29</text><text transform="translate(1467.3 249)rotate(-90)">T. 30</text><text transform="translate(1481.6 249)rotate(-90)">T. 31</text>
</g>
<path class="arr" d="M1034 173H1079M1041 169.5L1034 173L1041 176.5M1072 169.5L1079 173L1072 176.5"/>
<text x="1026" y="178.5" class="wd">5000 words</text>
<g class="lgl"><line x1="1504" x2="1531" y1="191.5" y2="191.5" stroke="#FF3333"/><line x1="1504" x2="1531" y1="209.8" y2="209.8" stroke="#33CC00"/><line x1="1504" x2="1531" y1="228.1" y2="228.1" stroke="#2200FF"/><line x1="1504" x2="1531" y1="246.4" y2="246.4" stroke="#000"/><line x1="1504" x2="1531" y1="264.7" y2="264.7" stroke="#F8A500"/><line x1="1504" x2="1531" y1="283" y2="283" stroke="#FF00CC"/><line x1="1504" x2="1531" y1="301.3" y2="301.3" stroke="#888"/></g>
<g class="lgt"><text x="1545" y="197">1-P</text><text x="1545" y="215.3">2-P</text><text x="1545" y="233.6">3-P</text><text x="1545" y="251.9">4-P</text><text x="1545" y="270.2">5-P</text><text x="1545" y="288.5">6-P</text><text x="1545" y="306.8">7-P</text></g>
<g transform="translate(150,418) scale(0.91837,0.33333)">
<rect x="48" y="68" width="1410" height="324" fill="#C2EEB3"/>
<g fill="#F8BBBB"><rect x="135" y="68" width="4" height="324"/><rect x="205" y="68" width="4" height="324"/><rect x="716" y="68" width="5" height="324"/><rect x="737" y="68" width="8" height="324"/><rect x="750" y="68" width="10" height="324"/><rect x="771" y="68" width="4" height="324"/><rect x="870" y="68" width="4" height="324"/><rect x="1410" y="68" width="5" height="324"/><rect x="1420" y="68" width="5" height="324"/></g>
<rect x="745" y="68" width="5" height="324" fill="#AAAAAA"/>
<rect x="48" y="415" width="1410" height="325" fill="#88DF6E"/>
<g fill="#F88787"><rect x="140" y="415" width="6" height="325"/><rect x="762" y="415" width="8" height="325"/><rect x="1425" y="415" width="33" height="325"/></g>
<rect x="48" y="760" width="1410" height="347" fill="#33C70A"/>
</g>
<text x="182" y="505" class="bl">3<tspan font-size="15" dy="-9">rd</tspan></text>
<text x="182" y="622" class="bl">2<tspan font-size="15" dy="-9">nd</tspan></text>
<text x="182" y="740" class="bl">1<tspan font-size="15" dy="-9">st</tspan></text>
<path class="ax" d="M194 933H1562"/>
<path class="tick" d="M194 933v13M650 933v13M1106 933v13M1562 933v13"/>
<text x="194" y="978" class="tk">0</text><text x="650" y="978" class="tk">50000</text><text x="1106" y="978" class="tk">100000</text><text x="1562" y="978" class="tk">150000</text>
<text x="906" y="1029" class="tk">story development (in words)</text>
</g>

<!-- ================= ROW 3 RIGHT ================= -->
<g transform="translate(1691,2122)">
<text transform="translate(60 519)rotate(-90)" class="yt">Delta classification</text>
<path class="dash" d="M196.7 107V933M1492 107V788"/>
<path class="blk" d="M1492 788V933"/>
<rect x="1139" y="133" width="36" height="293" fill="#CCC"/>
<rect x="1139" y="803.6" width="36" height="129.4" fill="#CCC"/>
<use href="#dR3" class="dot"/><use href="#dRl" class="dot"/>
<g class="ch">
<text transform="translate(207.2 249)rotate(-90)">T. 1</text><text transform="translate(211 249)rotate(-90)">T. 2</text><text transform="translate(214.8 249)rotate(-90)">T. 3</text><text transform="translate(304.7 249)rotate(-90)">T. 3</text><text transform="translate(325.8 249)rotate(-90)">T. 4</text><text transform="translate(408 249)rotate(-90)">T. 5</text><text transform="translate(454 249)rotate(-90)">T. 6</text><text transform="translate(477.9 249)rotate(-90)">T. 7</text><text transform="translate(511.4 249)rotate(-90)">T. 8</text><text transform="translate(532.4 249)rotate(-90)">T. 9</text><text transform="translate(538.1 249)rotate(-90)">T. 10</text><text transform="translate(563 249)rotate(-90)">T. 11</text><text transform="translate(640.5 249)rotate(-90)">T. 12</text><text transform="translate(644.3 249)rotate(-90)">T. 13</text><text transform="translate(660.6 249)rotate(-90)">T. 14</text><text transform="translate(695 249)rotate(-90)">T. 15</text><text transform="translate(699.8 249)rotate(-90)">T. 16</text><text transform="translate(773.5 249)rotate(-90)">T. 17</text><text transform="translate(796.5 249)rotate(-90)">T. 18</text><text transform="translate(1066.2 249)rotate(-90)">T. 19</text><text transform="translate(1100.7 249)rotate(-90)">T. 20</text><text transform="translate(1128.4 249)rotate(-90)">T. 21</text><text transform="translate(1133.2 249)rotate(-90)">T. 22</text><text transform="translate(1213.5 249)rotate(-90)">T. 23</text><text transform="translate(1271.9 249)rotate(-90)">T. 24</text><text transform="translate(1277.6 249)rotate(-90)">T. 25</text><text transform="translate(1283.4 249)rotate(-90)">T. 26</text><text transform="translate(1290.1 249)rotate(-90)">T. 27</text><text transform="translate(1296.8 249)rotate(-90)">T. 28</text><text transform="translate(1368.5 249)rotate(-90)">T. 29</text><text transform="translate(1410.6 249)rotate(-90)">T. 30</text><text transform="translate(1429.8 249)rotate(-90)">T. 31</text><text transform="translate(1470.9 249)rotate(-90)">T. 32</text>
</g>
<path class="arr" d="M1139 173H1175M1146 169.5L1139 173L1146 176.5M1168 169.5L1175 173L1168 176.5"/>
<text x="1131" y="178.5" class="wd">5000 words</text>
<g class="lgl"><line x1="1507" x2="1534" y1="191.5" y2="191.5" stroke="#FF3333"/><line x1="1507" x2="1534" y1="209.8" y2="209.8" stroke="#33CC00"/><line x1="1507" x2="1534" y1="228.1" y2="228.1" stroke="#2200FF"/><line x1="1507" x2="1534" y1="246.4" y2="246.4" stroke="#000"/><line x1="1507" x2="1534" y1="264.7" y2="264.7" stroke="#F8A500"/><line x1="1507" x2="1534" y1="283" y2="283" stroke="#FF00CC"/><line x1="1507" x2="1534" y1="301.3" y2="301.3" stroke="#888"/></g>
<g class="lgt"><text x="1548" y="197">1-P</text><text x="1548" y="215.3">2-P</text><text x="1548" y="233.6">3-P</text><text x="1548" y="251.9">4-P</text><text x="1548" y="270.2">5-P</text><text x="1548" y="288.5">6-P</text><text x="1548" y="306.8">7-P</text></g>
<g transform="translate(189,418) scale(0.91837,0.33333)">
<rect x="8" y="68" width="1411" height="324" fill="#B3B3FF"/>
<g fill="#FAE3BB"><rect x="38" y="68" width="4" height="324"/><rect x="148" y="68" width="4" height="324"/><rect x="1220" y="68" width="70" height="324"/><rect x="1298" y="68" width="8" height="324"/><rect x="1372" y="68" width="8" height="324"/></g>
<g fill="#DADADA"><rect x="42" y="68" width="4" height="324"/><rect x="55" y="68" width="5" height="324"/><rect x="88" y="68" width="4" height="324"/><rect x="118" y="68" width="4" height="324"/><rect x="155" y="68" width="5" height="324"/><rect x="178" y="68" width="6" height="324"/><rect x="280" y="68" width="5" height="324"/><rect x="308" y="68" width="4" height="324"/><rect x="318" y="68" width="4" height="324"/><rect x="330" y="68" width="12" height="324"/><rect x="924" y="68" width="36" height="324"/><rect x="962" y="68" width="4" height="324"/><rect x="1125" y="68" width="15" height="324"/><rect x="1198" y="68" width="15" height="324"/><rect x="1345" y="68" width="10" height="324"/><rect x="1380" y="68" width="15" height="324"/><rect x="1397" y="68" width="22" height="324"/></g>
<g fill="#F8C4C4"><rect x="162" y="68" width="10" height="324"/><rect x="990" y="68" width="15" height="324"/><rect x="638" y="68" width="7" height="324"/></g>
<g fill="#F4B8EE"><rect x="290" y="68" width="8" height="324"/><rect x="300" y="68" width="5" height="324"/><rect x="1355" y="68" width="17" height="324"/></g>
<rect x="630" y="68" width="6" height="324" fill="#C2EEB3"/>
<rect x="1183" y="68" width="12" height="324" fill="#AEAEAE"/>
<rect x="8" y="415" width="1411" height="325" fill="#6868FF"/>
<rect x="8" y="415" width="20" height="325" fill="#666"/>
<g fill="#B8B8B8"><rect x="57" y="415" width="4" height="325"/><rect x="329" y="415" width="8" height="325"/><rect x="1374" y="415" width="6" height="325"/></g>
<g fill="#F8C86B"><rect x="145" y="415" width="12" height="325"/><rect x="1215" y="415" width="6" height="325"/><rect x="1254" y="415" width="4" height="325"/><rect x="1290" y="415" width="7" height="325"/><rect x="1393" y="415" width="26" height="325"/></g>
<rect x="8" y="760" width="1411" height="347" fill="#2800FF"/>
</g>
<text x="185" y="505" class="bl">3<tspan font-size="15" dy="-9">rd</tspan></text>
<text x="185" y="622" class="bl">2<tspan font-size="15" dy="-9">nd</tspan></text>
<text x="185" y="740" class="bl">1<tspan font-size="15" dy="-9">st</tspan></text>
<path class="ax" d="M197 933H1608"/>
<path class="tick" d="M197 933v13M550 933v13M902.6 933v13M1255.2 933v13M1608 933v13"/>
<text x="197" y="978" class="tk">0</text><text x="550" y="978" class="tk">50000</text><text x="902.6" y="978" class="tk">100000</text><text x="1255.2" y="978" class="tk">150000</text><text x="1608" y="978" class="tk">200000</text>
<text x="909" y="1029" class="tk">story development (in words)</text>
</g>

<text x="1462" y="3176" font-size="23" textLength="253" lengthAdjust="spacingAndGlyphs">© 7PartidasDigital, 2023</text>
<rect x="1413" y="3180" width="1725" height="3" fill="#EDEDED"/>
</svg>
</body></html>
